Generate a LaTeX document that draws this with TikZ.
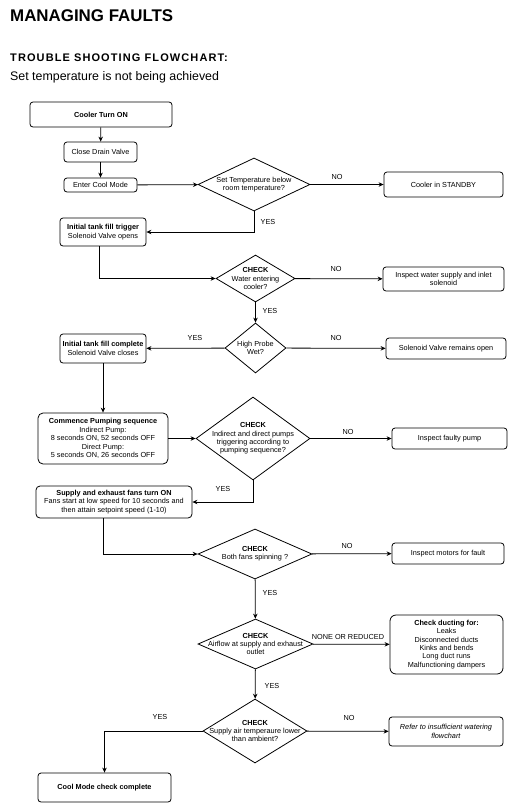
\documentclass[tikz,border=0pt]{standalone}
\usepackage{fontspec}
\setmainfont{Liberation Sans}
\usetikzlibrary{arrows.meta,shapes.geometric}
\begin{document}
\begin{tikzpicture}[x=1pt,y=-1pt,
  box/.style={draw=black, line width=0.8pt, rounded corners=3pt, align=center, inner sep=1pt,
    font=\fontsize{7.3}{8.4}\selectfont},
  dia/.style={draw=black, line width=0.8pt, diamond, inner sep=0pt},
  dtxt/.style={align=center, inner sep=0pt, font=\fontsize{7.3}{8.4}\selectfont},
  lbl/.style={inner sep=0pt, font=\fontsize{7.3}{8.4}\selectfont},
  arr/.style={line width=0.8pt, -{Stealth[length=5pt,width=4.5pt]}},
  ln/.style={line width=0.8pt}]
\useasboundingbox (0,0) rectangle (526,809);
% header
\node[anchor=base west, inner sep=0pt, font=\fontsize{16.9}{18}\selectfont\bfseries] (title) at (10,21.5) {MANAGING FAULTS};
\node[anchor=base west, inner sep=0pt, font=\fontsize{11}{12}\selectfont\bfseries\addfontfeature{LetterSpace=10}] (head) at (10,61.7) {TROUBLE SHOOTING FLOWCHART:};
\node[anchor=base west, inner sep=0pt, font=\fontsize{12.4}{14}\selectfont] (sub) at (10,80) {Set temperature is not being achieved};
% boxes
\node[box, minimum width=142, minimum height=25] (c1) at (101,114.5) {\textbf{Cooler Turn ON}};
\node[box, minimum width=73, minimum height=20] (cdv) at (100.5,152) {Close Drain Valve};
\node[box, minimum width=73, minimum height=14] (ecm) at (100.5,185) {Enter Cool Mode};
\node[box, minimum width=119, minimum height=25] (stby) at (443.5,184.5) {Cooler in STANDBY};
\node[box, minimum width=86, minimum height=28] (trig) at (103,232) {\textbf{Initial tank fill trigger}\\Solenoid Valve opens};
\node[box, minimum width=121, minimum height=24] (insw) at (443.5,279) {Inspect water supply and inlet\\solenoid};
\node[box, minimum width=86, minimum height=29] (tcomp) at (103,348.5) {\textbf{Initial tank fill complete}\\Solenoid Valve closes};
\node[box, minimum width=120, minimum height=21] (sopen) at (446,348.5) {Solenoid Valve remains open};
\node[box, rounded corners=5pt, minimum width=130, minimum height=51] (comm) at (103,438.5) {\textbf{Commence Pumping sequence}\\Indirect Pump:\\8 seconds ON, 52 seconds OFF\\Direct Pump:\\5 seconds ON, 26 seconds OFF};
\node[box, minimum width=115, minimum height=21] (fpump) at (449.5,438.5) {Inspect faulty pump};
\node[box, rounded corners=4pt, minimum width=156, minimum height=32] (fans) at (114,502) {\textbf{Supply and exhaust fans turn ON}\\Fans start at low speed for 10 seconds and\\then attain setpoint speed (1-10)};
\node[box, minimum width=112, minimum height=21] (motors) at (448,553.5) {Inspect motors for fault};
\node[box, rounded corners=6pt, minimum width=113, minimum height=59] (duct) at (446.5,644.5) {\textbf{Check ducting for:}\\Leaks\\Disconnected ducts\\Kinks and bends\\Long duct runs\\Malfunctioning dampers};
\node[box, minimum width=114, minimum height=29] (refer) at (446,731.5) {\textit{Refer to insufficient watering}\\\textit{flowchart}};
\node[box, minimum width=133, minimum height=29] (cdone) at (104.5,787.5) {\textbf{Cool Mode check complete}};
% diamonds
\node[dia, minimum width=112, minimum height=53] (d1) at (254,184.5) {};
\node[dtxt] (t1) at (d1.center) {Set Temperature below\\room temperature?};
\node[dia, minimum width=79, minimum height=47] (d2) at (255.5,278.5) {};
\node[dtxt] (t2) at (d2.center) {\textbf{CHECK}\\Water entering\\cooler?};
\node[dia, minimum width=61, minimum height=50] (d3) at (255.5,348) {};
\node[dtxt] (t3) at (d3.center) {High Probe\\Wet?};
\node[dia, minimum width=114, minimum height=83] (d4) at (253,438.5) {};
\node[dtxt] (t4) at (d4.center) {\textbf{CHECK}\\Indirect and direct pumps\\triggering according to\\pumping sequence?};
\node[dia, minimum width=114, minimum height=50] (d5) at (255,554) {};
\node[dtxt] (t5) at (d5.center) {\textbf{CHECK}\\Both fans spinning ?};
\node[dia, minimum width=115, minimum height=50] (d6) at (255.5,644) {};
\node[dtxt] (t6) at (d6.center) {\textbf{CHECK}\\Airflow at supply and exhaust\\outlet};
\node[dia, minimum width=104, minimum height=64] (d7) at (255,731) {};
\node[dtxt] (t7) at (d7.center) {\textbf{CHECK}\\Supply air temperaure lower\\than ambient?};
% connectors
\draw[arr] (c1) -- (cdv);
\draw[arr] (cdv) -- (ecm);
\draw[arr] (ecm) -- (d1);
\draw[arr] (d1) -- (stby);
\draw[arr] (d1.south) |- (trig.east);
\draw[arr] ([xshift=-4pt]trig.south) |- (d2.west);
\draw[arr] (d2) -- (insw);
\draw[arr] (d2) -- (d3);
\draw[arr] (d3) -- (tcomp);
\draw[arr] (d3) -- (sopen);
\draw[arr] (tcomp) -- (comm);
\draw[arr] (comm) -- (d4);
\draw[arr] (d4) -- (fpump);
\draw[arr] (d4.south) |- (fans.east);
\draw[arr] ([xshift=-11pt]fans.south) |- (d5.west);
\draw[arr] (d5) -- (motors);
\draw[arr] (d5) -- (d6);
\draw[arr] (d6) -- (duct);
\draw[arr] (d6) -- (d7);
\draw[arr] (d7) -- (refer);
\draw[arr] (d7.west) -| (cdone.north);
% labels
\node[lbl] (l1) at (337,177) {NO};
\node[lbl] (l2) at (268,222) {YES};
\node[lbl] (l3) at (336,269) {NO};
\node[lbl] (l4) at (270,311) {YES};
\node[lbl] (l5) at (195,338) {YES};
\node[lbl] (l6) at (336,338) {NO};
\node[lbl] (l7) at (348,432) {NO};
\node[lbl] (l8) at (223,489) {YES};
\node[lbl] (l9) at (347,546) {NO};
\node[lbl] (l10) at (270,593) {YES};
\node[lbl] (l11) at (348,637) {NONE OR REDUCED};
\node[lbl] (l12) at (272,686) {YES};
\node[lbl] (l13) at (349,718) {NO};
\node[lbl] (l14) at (160,717) {YES};
\end{tikzpicture}
\end{document}
